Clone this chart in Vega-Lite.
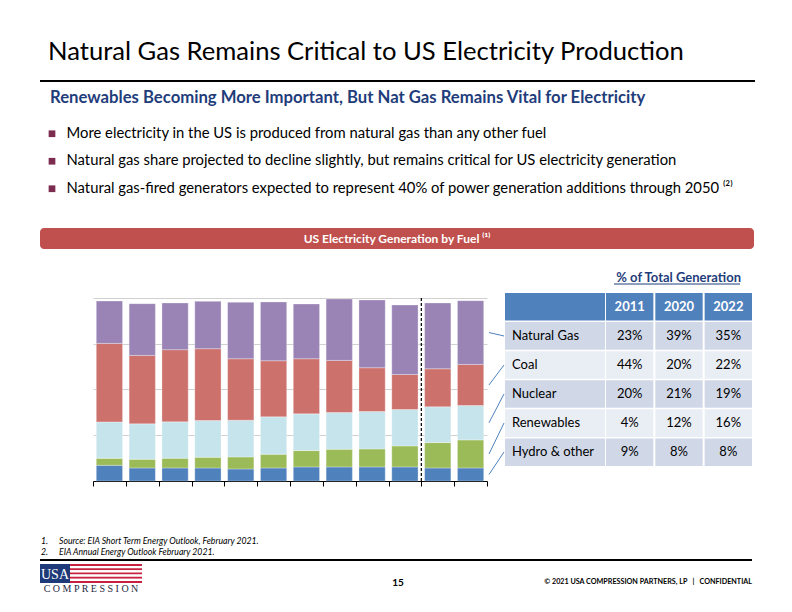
{
  "$schema": "https://vega.github.io/schema/vega-lite/v6.json",
  "background": "#ffffff",
  "padding": {"left": 40, "top": 40, "right": 0, "bottom": 0},
  "spacing": 0,
  "config": {
    "view": {"stroke": null},
    "font": "Lato",
    "concat": {"spacing": 0}
  },
  "title": {
    "text": "Natural Gas Remains Critical to US Electricity Production",
    "anchor": "start", "dx": 8, "fontSize": 25.6, "fontWeight": "normal",
    "color": "#000000", "font": "Lato", "offset": 14
  },
  "datasets": {
    "gen": [
      {"year": 2011, "fuel": "Hydro & other", "twh": 343}, {"year": 2011, "fuel": "Renewables", "twh": 153}, {"year": 2011, "fuel": "Nuclear", "twh": 796}, {"year": 2011, "fuel": "Coal", "twh": 1715}, {"year": 2011, "fuel": "Natural Gas", "twh": 927},
      {"year": 2012, "fuel": "Hydro & other", "twh": 285}, {"year": 2012, "fuel": "Renewables", "twh": 190}, {"year": 2012, "fuel": "Nuclear", "twh": 774}, {"year": 2012, "fuel": "Coal", "twh": 1496}, {"year": 2012, "fuel": "Natural Gas", "twh": 1131},
      {"year": 2013, "fuel": "Hydro & other", "twh": 285}, {"year": 2013, "fuel": "Renewables", "twh": 212}, {"year": 2013, "fuel": "Nuclear", "twh": 796}, {"year": 2013, "fuel": "Coal", "twh": 1577}, {"year": 2013, "fuel": "Natural Gas", "twh": 1022},
      {"year": 2014, "fuel": "Hydro & other", "twh": 285}, {"year": 2014, "fuel": "Renewables", "twh": 234}, {"year": 2014, "fuel": "Nuclear", "twh": 803}, {"year": 2014, "fuel": "Coal", "twh": 1569}, {"year": 2014, "fuel": "Natural Gas", "twh": 1036},
      {"year": 2015, "fuel": "Hydro & other", "twh": 263}, {"year": 2015, "fuel": "Renewables", "twh": 263}, {"year": 2015, "fuel": "Nuclear", "twh": 803}, {"year": 2015, "fuel": "Coal", "twh": 1343}, {"year": 2015, "fuel": "Natural Gas", "twh": 1234},
      {"year": 2016, "fuel": "Hydro & other", "twh": 285}, {"year": 2016, "fuel": "Renewables", "twh": 299}, {"year": 2016, "fuel": "Nuclear", "twh": 818}, {"year": 2016, "fuel": "Coal", "twh": 1226}, {"year": 2016, "fuel": "Natural Gas", "twh": 1285},
      {"year": 2017, "fuel": "Hydro & other", "twh": 307}, {"year": 2017, "fuel": "Renewables", "twh": 358}, {"year": 2017, "fuel": "Nuclear", "twh": 803}, {"year": 2017, "fuel": "Coal", "twh": 1204}, {"year": 2017, "fuel": "Natural Gas", "twh": 1197},
      {"year": 2018, "fuel": "Hydro & other", "twh": 307}, {"year": 2018, "fuel": "Renewables", "twh": 387}, {"year": 2018, "fuel": "Nuclear", "twh": 803}, {"year": 2018, "fuel": "Coal", "twh": 1139}, {"year": 2018, "fuel": "Natural Gas", "twh": 1343},
      {"year": 2019, "fuel": "Hydro & other", "twh": 307}, {"year": 2019, "fuel": "Renewables", "twh": 394}, {"year": 2019, "fuel": "Nuclear", "twh": 818}, {"year": 2019, "fuel": "Coal", "twh": 956}, {"year": 2019, "fuel": "Natural Gas", "twh": 1482},
      {"year": 2020, "fuel": "Hydro & other", "twh": 307}, {"year": 2020, "fuel": "Renewables", "twh": 460}, {"year": 2020, "fuel": "Nuclear", "twh": 796}, {"year": 2020, "fuel": "Coal", "twh": 766}, {"year": 2020, "fuel": "Natural Gas", "twh": 1518},
      {"year": 2021, "fuel": "Hydro & other", "twh": 285}, {"year": 2021, "fuel": "Renewables", "twh": 555}, {"year": 2021, "fuel": "Nuclear", "twh": 781}, {"year": 2021, "fuel": "Coal", "twh": 832}, {"year": 2021, "fuel": "Natural Gas", "twh": 1438},
      {"year": 2022, "fuel": "Hydro & other", "twh": 285}, {"year": 2022, "fuel": "Renewables", "twh": 613}, {"year": 2022, "fuel": "Nuclear", "twh": 752}, {"year": 2022, "fuel": "Coal", "twh": 898}, {"year": 2022, "fuel": "Natural Gas", "twh": 1394}
    ],
    "fuels": [
      {"fuel": "Hydro & other", "fuelRank": 1},
      {"fuel": "Renewables", "fuelRank": 2},
      {"fuel": "Nuclear", "fuelRank": 3},
      {"fuel": "Coal", "fuelRank": 4},
      {"fuel": "Natural Gas", "fuelRank": 5}
    ],
    "tableRows": [
      {"row": "header"}, {"row": "Natural Gas"}, {"row": "Coal"}, {"row": "Nuclear"}, {"row": "Renewables"}, {"row": "Hydro & other"}
    ],
    "cells": [
      {"row": "header", "col": "2011"}, {"row": "header", "col": "2020"}, {"row": "header", "col": "2022"},
      {"row": "Natural Gas", "col": "2011", "share": 0.23}, {"row": "Natural Gas", "col": "2020", "share": 0.39}, {"row": "Natural Gas", "col": "2022", "share": 0.35},
      {"row": "Coal", "col": "2011", "share": 0.44}, {"row": "Coal", "col": "2020", "share": 0.20}, {"row": "Coal", "col": "2022", "share": 0.22},
      {"row": "Nuclear", "col": "2011", "share": 0.20}, {"row": "Nuclear", "col": "2020", "share": 0.21}, {"row": "Nuclear", "col": "2022", "share": 0.19},
      {"row": "Renewables", "col": "2011", "share": 0.04}, {"row": "Renewables", "col": "2020", "share": 0.12}, {"row": "Renewables", "col": "2022", "share": 0.16},
      {"row": "Hydro & other", "col": "2011", "share": 0.09}, {"row": "Hydro & other", "col": "2020", "share": 0.08}, {"row": "Hydro & other", "col": "2022", "share": 0.08}
    ],
    "connectors": [
      {"fuel": "Natural Gas", "from": 3245, "to": 3169},
      {"fuel": "Coal", "from": 2099, "to": 2536},
      {"fuel": "Nuclear", "from": 1274, "to": 1902},
      {"fuel": "Renewables", "from": 591, "to": 1268},
      {"fuel": "Hydro & other", "from": 142, "to": 634}
    ]
  },
  "resolve": {"scale": {"color": "independent"}},
  "vconcat": [
    {
      "width": 715, "height": 2, "view": {"fill": "#000000", "stroke": null},
      "data": {"values": [{}]}, "mark": {"type": "text", "text": "", "fontSize": 0}
    },
    {"width": 10, "height": 8, "data": {"values": [{}]}, "mark": {"type": "text", "text": "", "fontSize": 0}},
    {
      "width": 715, "height": 82.5,
      "title": {
        "text": "Renewables Becoming More Important, But Nat Gas Remains Vital for Electricity",
        "anchor": "start", "dx": 10, "fontSize": 16.7, "fontWeight": "bold",
        "color": "#1F3D7B", "offset": 13.3, "font": "Lato"
      },
      "data": {"values": [
        {"i": 1, "bullet": "More electricity in the US is produced from natural gas than any other fuel"},
        {"i": 2, "bullet": "Natural gas share projected to decline slightly, but remains critical for US electricity generation"},
        {"i": 3, "bullet": "Natural gas-fired generators expected to represent 40% of power generation additions through 2050 ⁽²⁾"}
      ]},
      "encoding": {"y": {"field": "i", "type": "ordinal", "axis": null}},
      "layer": [
        {"mark": {"type": "point", "shape": "square", "filled": true, "color": "#7B2C4F", "size": 45, "opacity": 1},
         "encoding": {"x": {"value": 12}}},
        {"mark": {"type": "text", "align": "left", "baseline": "middle", "fontSize": 14.8, "color": "#000000"},
         "encoding": {"x": {"value": 26.5}, "text": {"field": "bullet"}}}
      ]
    },
    {"width": 10, "height": 24.75, "data": {"values": [{}]}, "mark": {"type": "text", "text": "", "fontSize": 0}},
    {
      "width": 714, "height": 21, "view": {"fill": "#C0504D", "cornerRadius": 4, "stroke": null},
      "data": {"values": [{"t": "US Electricity Generation by Fuel ⁽¹⁾"}]},
      "mark": {"type": "text", "color": "#ffffff", "fontWeight": "bold", "fontSize": 12},
      "encoding": {
        "x": {"field": "t", "type": "nominal", "axis": null},
        "y": {"field": "t", "type": "nominal", "axis": null},
        "text": {"field": "t"}
      }
    },
    {"width": 10, "height": 23, "data": {"values": [{}]}, "mark": {"type": "text", "text": "", "fontSize": 0}},
    {
      "hconcat": [
        {"width": 52, "height": 10, "data": {"values": [{}]}, "mark": {"type": "text", "text": "", "fontSize": 0}},
        {
          "width": 394, "height": 188,
          "layer": [
            {
              "data": {"name": "gen"},
              "transform": [{"lookup": "fuel", "from": {"data": {"name": "fuels"}, "key": "fuel", "fields": ["fuelRank"]}}],
              "mark": {"type": "bar", "width": {"band": 0.8}, "stroke": "#ffffff", "strokeWidth": 0.5, "strokeOpacity": 0.6},
              "encoding": {
                "x": {"field": "year", "type": "ordinal", "scale": {"paddingInner": 0, "paddingOuter": 0},
                      "axis": {"labels": false, "title": null, "tickBand": "extent", "tickSize": 5, "tickColor": "#000000", "domainColor": "#000000", "grid": false}},
                "y": {"field": "twh", "type": "quantitative", "stack": "zero", "scale": {"domain": [0, 4109], "nice": false},
                      "axis": {"values": [0, 1000, 2000, 3000, 4000], "labels": false, "ticks": false, "domain": false, "title": null, "grid": true, "gridColor": "#D0D0D0"}},
                "color": {"field": "fuel", "type": "nominal",
                          "scale": {"domain": ["Hydro & other", "Renewables", "Nuclear", "Coal", "Natural Gas"],
                                    "range": ["#4F81BD", "#9BBB59", "#C6E4EC", "#CD716D", "#9A84B5"]},
                          "legend": null},
                "order": {"field": "fuelRank", "type": "quantitative", "sort": "ascending"}
              }
            },
            {
              "data": {"values": [{"year": 2021, "note": "forecast"}]},
              "mark": {"type": "rule", "strokeDash": [3, 2], "color": "#000000", "strokeWidth": 1.2},
              "encoding": {
                "x": {"field": "year", "type": "ordinal", "bandPosition": 0},
                "y": {"datum": 0, "type": "quantitative"},
                "y2": {"datum": 4000}
              }
            }
          ]
        },
        {
          "width": 13, "height": 188,
          "data": {"name": "connectors"},
          "mark": {"type": "rule", "color": "#4F81BD", "strokeWidth": 1},
          "encoding": {
            "x": {"value": -2}, "x2": {"value": 13},
            "y": {"field": "from", "type": "quantitative", "scale": {"domain": [0, 4109], "nice": false}, "axis": null},
            "y2": {"field": "to"}
          }
        },
        {
          "title": {"text": "% of Total Generation", "anchor": "end", "dx": -12, "fontSize": 13, "fontWeight": "bold", "color": "#1F3D7B", "offset": -1.5, "font": "Lato"},
          "spacing": 0,
          "resolve": {"scale": {"color": "independent", "y": "independent"}},
          "hconcat": [
            {
              "width": 100, "height": 173,
              "data": {"name": "tableRows"},
              "encoding": {"y": {"field": "row", "type": "nominal", "scale": {"domain": ["header", "Natural Gas", "Coal", "Nuclear", "Renewables", "Hydro & other"], "paddingInner": 0.05, "paddingOuter": 0}, "axis": null}},
              "layer": [
                {"mark": {"type": "rect"},
                 "encoding": {"color": {"field": "row", "type": "nominal", "scale": {"domain": ["header", "Natural Gas", "Coal", "Nuclear", "Renewables", "Hydro & other"], "range": ["#4F81BD", "#D0D8E8", "#E9EDF4", "#D0D8E8", "#E9EDF4", "#D0D8E8"]}, "legend": null}}},
                {"transform": [{"filter": "datum.row !== 'header'"}],
                 "mark": {"type": "text", "align": "left", "baseline": "middle", "fontSize": 13, "color": "#000000"},
                 "encoding": {"x": {"value": 7}, "text": {"field": "row"}}}
              ]
            },
            {
              "width": 148, "height": 173,
              "data": {"name": "cells"},
              "encoding": {
                "y": {"field": "row", "type": "nominal", "scale": {"domain": ["header", "Natural Gas", "Coal", "Nuclear", "Renewables", "Hydro & other"], "paddingInner": 0.05, "paddingOuter": 0}, "axis": null},
                "x": {"field": "col", "type": "nominal", "scale": {"domain": ["2011", "2020", "2022"], "paddingInner": 0.04, "paddingOuter": 0.02}, "axis": null}
              },
              "layer": [
                {"mark": {"type": "rect"},
                 "encoding": {"color": {"field": "row", "type": "nominal", "scale": {"domain": ["header", "Natural Gas", "Coal", "Nuclear", "Renewables", "Hydro & other"], "range": ["#4F81BD", "#D0D8E8", "#E9EDF4", "#D0D8E8", "#E9EDF4", "#D0D8E8"]}, "legend": null}}},
                {"transform": [{"filter": "datum.row === 'header'"}],
                 "mark": {"type": "text", "baseline": "middle", "fontSize": 13, "fontWeight": "bold", "color": "#ffffff"},
                 "encoding": {"text": {"field": "col"}}},
                {"transform": [{"filter": "datum.row !== 'header'"}],
                 "mark": {"type": "text", "baseline": "middle", "fontSize": 13, "color": "#000000"},
                 "encoding": {"text": {"field": "share", "type": "quantitative", "format": ".0%"}}},
                {"data": {"values": [{}]},
                 "mark": {"type": "rule", "color": "#1F3D7B", "strokeWidth": 1},
                 "encoding": {"x": {"value": 9}, "x2": {"value": 135}, "y": {"value": -9}}}
              ]
            }
          ]
        }
      ],
      "spacing": 0,
      "resolve": {"scale": {"color": "independent", "y": "independent", "x": "independent"}}
    },
    {"width": 10, "height": 47.5, "data": {"values": [{}]}, "mark": {"type": "text", "text": "", "fontSize": 0}},
    {
      "width": 715, "height": 22,
      "data": {"values": [
        {"n": "1.", "note": "Source: EIA Short Term Energy Outlook, February 2021."},
        {"n": "2.", "note": "EIA Annual Energy Outlook February 2021."}
      ]},
      "encoding": {"y": {"field": "n", "type": "ordinal", "axis": null}},
      "layer": [
        {"mark": {"type": "text", "align": "left", "fontSize": 8.7, "fontStyle": "italic", "color": "#000000"},
         "encoding": {"x": {"value": 1}, "text": {"field": "n"}}},
        {"mark": {"type": "text", "align": "left", "fontSize": 8.7, "fontStyle": "italic", "color": "#000000"},
         "encoding": {"x": {"value": 19}, "text": {"field": "note"}}}
      ]
    },
    {"width": 10, "height": 1.5, "data": {"values": [{}]}, "mark": {"type": "text", "text": "", "fontSize": 0}},
    {
      "width": 712, "height": 2, "view": {"fill": "#000000", "stroke": null},
      "data": {"values": [{}]}, "mark": {"type": "text", "text": "", "fontSize": 0}
    },
    {
      "spacing": 0,
      "resolve": {"scale": {"color": "independent"}},
      "hconcat": [
        {
          "spacing": 0,
          "resolve": {"scale": {"color": "independent"}},
          "vconcat": [
            {"width": 10, "height": 3, "data": {"values": [{}]}, "mark": {"type": "text", "text": "", "fontSize": 0}},
            {
              "spacing": 0,
              "resolve": {"scale": {"color": "independent"}},
              "hconcat": [
                {
                  "width": 30, "height": 19, "view": {"fill": "#1F3A78", "stroke": null},
                  "data": {"values": [{"t": "USA"}]},
                  "mark": {"type": "text", "color": "#ffffff", "font": "Liberation Serif", "fontSize": 14, "dy": 1},
                  "encoding": {
                    "x": {"field": "t", "type": "nominal", "axis": null},
                    "y": {"field": "t", "type": "nominal", "axis": null},
                    "text": {"field": "t"}
                  }
                },
                {
                  "width": 72, "height": 19,
                  "data": {"values": [{"stripe": 1, "part": "flag"}, {"stripe": 2, "part": "flag"}, {"stripe": 3, "part": "flag"}, {"stripe": 4, "part": "flag"}, {"stripe": 5, "part": "flag"}, {"stripe": 6, "part": "flag"}, {"stripe": 7, "part": "flag"}, {"stripe": 8, "part": "flag"}, {"stripe": 9, "part": "flag"}]},
                  "mark": {"type": "rect"},
                  "encoding": {
                    "y": {"field": "stripe", "type": "ordinal", "scale": {"paddingInner": 0, "paddingOuter": 0}, "axis": null},
                    "x": {"field": "part", "type": "nominal", "scale": {"paddingInner": 0, "paddingOuter": 0}, "axis": null},
                    "color": {"field": "stripe", "type": "ordinal", "scale": {"range": ["#C8203F", "#ffffff", "#C8203F", "#ffffff", "#C8203F", "#ffffff", "#C8203F", "#ffffff", "#C8203F"]}, "legend": null}
                  }
                }
              ]
            },
            {
              "width": 102, "height": 12,
              "data": {"values": [{"t": "C O M P R E S S I O N"}]},
              "mark": {"type": "text", "color": "#1F2A44", "font": "Liberation Serif", "fontSize": 10},
              "encoding": {
                "x": {"field": "t", "type": "nominal", "axis": null},
                "y": {"field": "t", "type": "nominal", "axis": null},
                "text": {"field": "t"}
              }
            }
          ]
        },
        {
          "width": 610, "height": 34,
          "data": {"values": [{"page": "15", "copy": "© 2021 USA COMPRESSION PARTNERS, LP \u00a0\u00a0|\u00a0\u00a0 CONFIDENTIAL"}]},
          "layer": [
            {"mark": {"type": "text", "fontSize": 10, "fontWeight": "bold", "color": "#000000"},
             "encoding": {"x": {"value": 256}, "y": {"value": 22}, "text": {"field": "page"}}},
            {"mark": {"type": "text", "align": "right", "fontSize": 7.2, "fontWeight": "bold", "color": "#000000"},
             "encoding": {"x": {"value": 610}, "y": {"value": 21}, "text": {"field": "copy"}}}
          ]
        }
      ]
    }
  ]
}
